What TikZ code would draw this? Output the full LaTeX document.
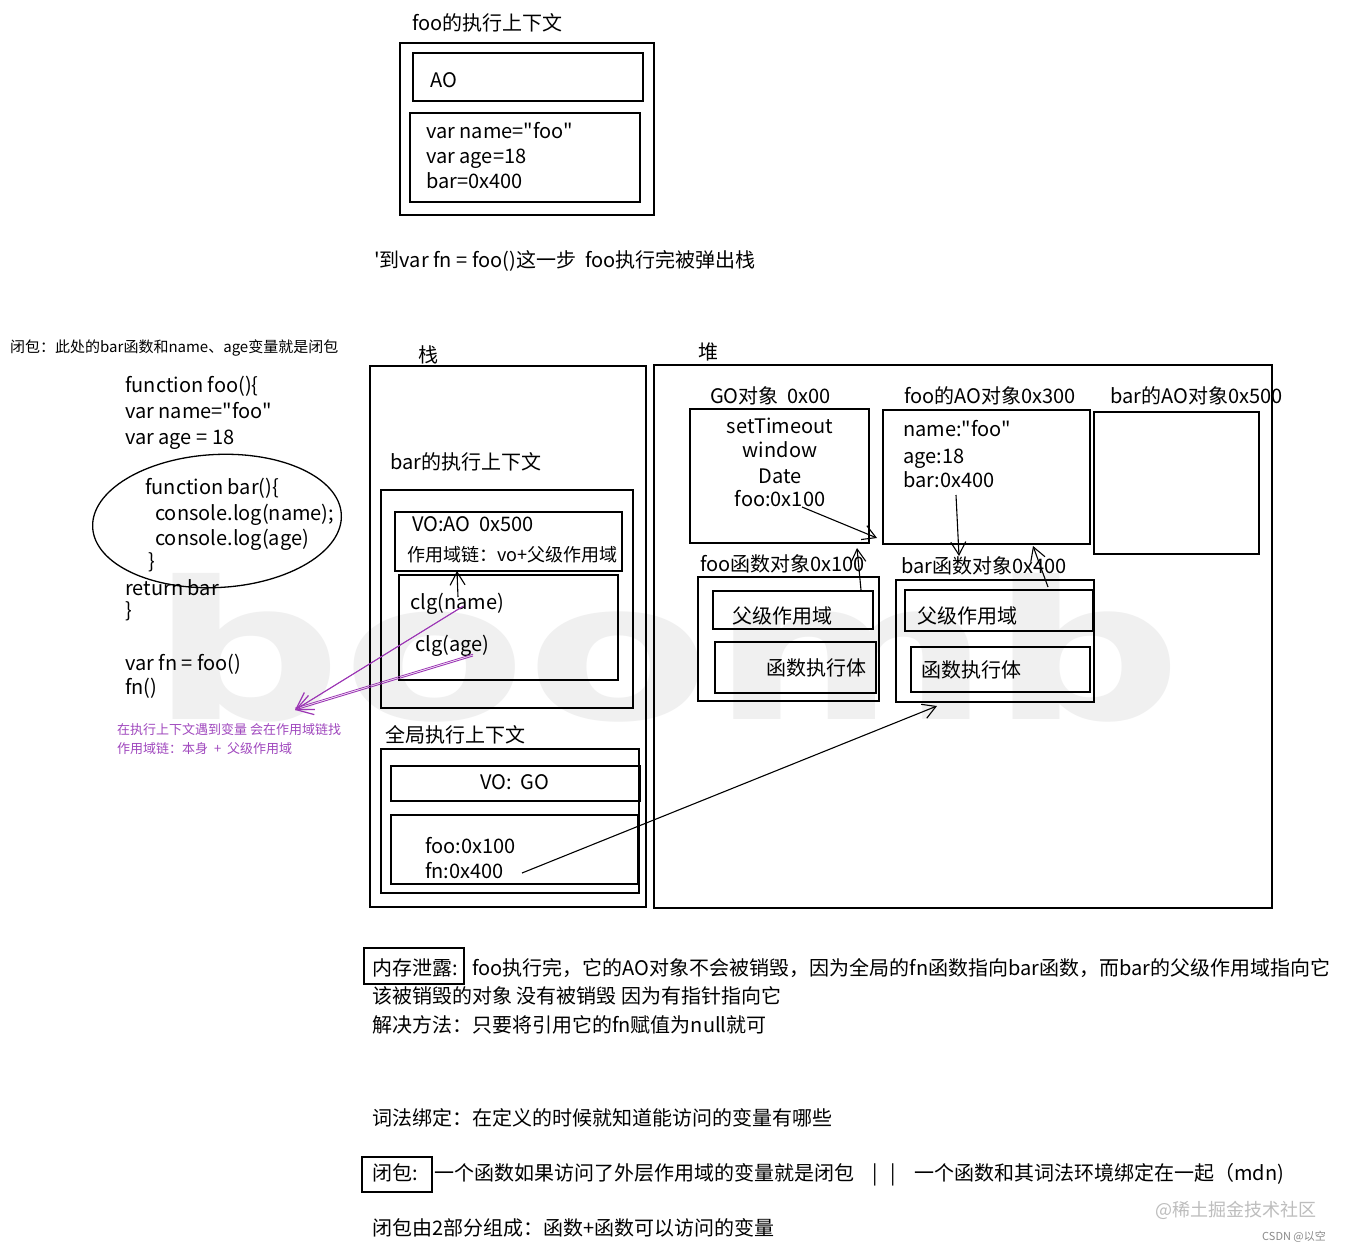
\documentclass[tikz,border=0pt]{standalone}
\usepackage{fontspec}
\setmainfont{Noto Sans CJK SC}
\newfontfamily\mf{Noto Sans CJK SC}
\newfontfamily\wmfont{DejaVu Sans}
\usetikzlibrary{arrows.meta,fit,shapes.geometric}
\definecolor{wm}{HTML}{F0F0F0}
\definecolor{pur}{HTML}{9C36B5}
\definecolor{ptext}{HTML}{A048BE}
\definecolor{gtext}{HTML}{BDBDBD}
\definecolor{ctext}{HTML}{8A8A8A}
\begin{document}
\begin{tikzpicture}[x=1pt,y=-1pt,
  bx/.style={draw, line width=1.4pt, inner sep=0pt, rectangle},
  tx/.style={anchor=base west, inner sep=0pt, font=\mf\fontsize{20}{24}\selectfont},
  tc/.style={anchor=base, inner sep=0pt, font=\mf\fontsize{20}{24}\selectfont},
  sm/.style={anchor=base west, inner sep=0pt, font=\mf\fontsize{15}{18}\selectfont},
  pt/.style={anchor=base west, inner sep=0pt, text=ptext, font=\mf\fontsize{13}{16}\selectfont},
  arr/.style={draw, line width=1.1pt, -{Straight Barb[length=13pt,width=15pt,line width=1.1pt]}},
  parr/.style={draw=pur, line width=0.9pt, -{Straight Barb[length=16pt,width=20pt,line width=1.2pt]}},
  pline/.style={draw=pur, line width=0.8pt}]
\useasboundingbox[fill=white] (0,0) rectangle (1346,1252);

% watermark
\node[anchor=south west, inner sep=0pt, text=wm] (wmk) at (150,722) {\resizebox{1030pt}{146pt}{\wmfont\bfseries boomb}};

% ---- foo execution context (top)
\node[tx] (fooctxt) at (412,31) {foo的执行上下文};
\node[bx, fit={(400,43)(654,215)}] (fooctx) {};
\node[bx, fit={(413,53)(643,101)}] (fooao) {};
\node[tx] (fooaot) at (430,88) {AO};
\node[bx, fit={(410,113)(640,202)}] (foovar) {};
\node[tx] (fv1) at (426,139) {var name="foo"};
\node[tx] (fv2) at (426,164) {var age=18};
\node[tx] (fv3) at (426,189) {bar=0x400};
\node[tx] (cap) at (374,267) {'到var fn = foo()这一步\ \ foo执行完被弹出栈};

% ---- left code
\node[sm] (clnote) at (10,352) {闭包：此处的bar函数和name、age变量就是闭包};
\node[draw, ellipse, line width=1.3pt, minimum width=249pt, minimum height=133pt, inner sep=0pt, rotate=3] (clos) at (217,521) {};
\node[tx] (c1) at (125,392) {function foo()\{};
\node[tx] (c2) at (125,418) {var name="foo"};
\node[tx] (c3) at (125,444) {var age = 18};
\node[tx] (c4) at (145,494) {function bar()\{};
\node[tx] (c5) at (155,520) {console.log(name);};
\node[tx] (c6) at (155,545) {console.log(age)};
\node[tx] (c7) at (148,568) {\}};
\node[tx] (c8) at (125,595) {return bar};
\node[tx] (c9) at (125,617) {\}};
\node[tx] (c10) at (125,670) {var fn = foo()};
\node[tx] (c11) at (125,694) {fn()};
\node[pt] (pn1) at (117,734) {在执行上下文遇到变量\ 会在作用域链找};
\node[pt] (pn2) at (117,753) {作用域链：本身\ \ +\ \ 父级作用域};

% ---- stack
\node[tx] (stkt) at (418,362) {栈};
\node[bx, fit={(370,366)(646,907)}] (stack) {};
\node[tx] (barctxt) at (390,469) {bar的执行上下文};
\node[bx, fit={(381,490)(633,708)}] (barctx) {};
\node[bx, fit={(395,512)(622,571)}] (barvo) {};
\node[tx] (barvot) at (412,531) {VO:AO\ \ 0x500};
\node[anchor=base west, inner sep=0pt, font=\mf\fontsize{18}{22}\selectfont] (scope) at (407,561) {作用域链：vo+父级作用域};
\node[bx, fit={(399,575)(618,680)}] (clg) {};
\node[tx] (clgn) at (410,609) {clg(name)};
\node[tx] (clga) at (415,651) {clg(age)};
\node[tx] (glbt) at (385,742) {全局执行上下文};
\node[bx, fit={(381,749)(639,893)}] (glb) {};
\node[bx, fit={(391,766)(640,801)}] (glbvo) {};
\node[tc] (glbvot) at (515,789) {VO:\ \ GO};
\node[bx, fit={(391,815)(638,884)}] (glbvar) {};
\node[tx] (gv1) at (425,853) {foo:0x100};
\node[tx] (gv2) at (425,878) {fn:0x400};

% ---- heap
\node[tx] (hpt) at (698,359) {堆};
\node[bx, fit={(654,365)(1272,908)}] (heap) {};
\node[tx] (got) at (710,403) {GO对象\ \ 0x00};
\node[bx, fit={(690,409)(869,543)}] (go) {};
\node[tc] (g1) at (780,433) {setTimeout};
\node[tc] (g2) at (780,457) {window};
\node[tc] (g3) at (780,483) {Date};
\node[tc] (g4) at (780,506) {foo:0x100};
\node[tx] (faot) at (904,403) {foo的AO对象0x300};
\node[bx, fit={(883,410)(1090,544)}] (fooaoh) {};
\node[tx] (fa1) at (903,436) {name:"foo"};
\node[tx] (fa2) at (903,463) {age:18};
\node[tx] (fa3) at (903,487) {bar:0x400};
\node[tx] (baot) at (1110,403) {bar的AO对象0x500};
\node[bx, fit={(1094,412)(1259,554)}] (barao) {};
\node[tx] (fft) at (700,571) {foo函数对象0x100};
\node[bx, fit={(698,577)(879,701)}] (foofn) {};
\node[bx, fit={(713,591)(873,629)}] (foofnp) {};
\node[tx] (foofnpt) at (732,623) {父级作用域};
\node[bx, fit={(715,642)(876,693)}] (foofnb) {};
\node[tx] (foofnbt) at (766,675) {函数执行体};
\node[tx] (bft) at (901,573) {bar函数对象0x400};
\node[bx, fit={(896,580)(1094,702)}] (barfn) {};
\node[bx, fit={(905,590)(1093,631)}] (barfnp) {};
\node[tx] (barfnpt) at (917,623) {父级作用域};
\node[bx, fit={(911,647)(1090,692)}] (barfnb) {};
\node[tx] (barfnbt) at (921,677) {函数执行体};

% ---- connectors
\coordinate (a1s) at (802,507); \coordinate (a1e) at (877,538);
\draw[arr] (a1s) -- (a1e);
\coordinate (a2s) at (861,590); \coordinate (a2e) at (857,548);
\draw[arr] (a2s) -- (a2e);
\coordinate (a3s) at (956,495); \coordinate (a3e) at (959,556);
\draw[arr] (a3s) -- (a3e);
\coordinate (a4s) at (1048,587); \coordinate (a4e) at (1033,546);
\draw[arr] (a4s) -- (a4e);
\coordinate (a5s) at (522,873); \coordinate (a5e) at (937,706);
\draw[arr] (a5s) -- (a5e);
\coordinate (a6s) at (458,597); \coordinate (a6e) at (457,571);
\draw[arr] (a6s) -- (a6e);
\coordinate (p1s) at (462,607); \coordinate (p2s) at (473,656); \coordinate (ptip) at (295,710);
\draw[parr] (p1s) -- (ptip);
\draw[pline] ([xshift=1.6pt,yshift=1.2pt]p1s) -- ([xshift=1.6pt,yshift=1.2pt]ptip);
\draw[parr] (p2s) -- (ptip);
\draw[pline] ([yshift=1.8pt]p2s) -- ([yshift=1.8pt]ptip);

% ---- bottom notes
\node[bx, line width=1.2pt, fit={(364,948)(464,984)}] (leakbox) {};
\node[tx] (leak) at (372,975) {内存泄露:};
\node[tx] (l1) at (472,975) {foo执行完，它的AO对象不会被销毁，因为全局的fn函数指向bar函数，而bar的父级作用域指向它};
\node[tx] (l2) at (372,1003) {该被销毁的对象\ 没有被销毁\ 因为有指针指向它};
\node[tx] (l3) at (372,1032) {解决方法：只要将引用它的fn赋值为null就可};
\node[tx] (l4) at (372,1125) {词法绑定：在定义的时候就知道能访问的变量有哪些};
\node[bx, line width=1.2pt, fit={(362,1157)(432,1192)}] (clbox) {};
\node[tx] (clt) at (372,1180) {闭包:};
\node[tx] (cl1) at (434,1180) {一个函数如果访问了外层作用域的变量就是闭包\ \ \ \ |\ \ \ |\ \ \ \ 一个函数和其词法环境绑定在一起（mdn)};
\node[tx] (l5) at (372,1235) {闭包由2部分组成：函数+函数可以访问的变量};
\node[anchor=base west, inner sep=0pt, text=gtext, font=\mf\fontsize{18}{20}\selectfont] (jj) at (1155,1216) {@稀土掘金技术社区};
\node[anchor=base west, inner sep=0pt, text=ctext, font=\mf\fontsize{11}{13}\selectfont] (csdn) at (1262,1240) {CSDN @以空};
\end{tikzpicture}
\end{document}
